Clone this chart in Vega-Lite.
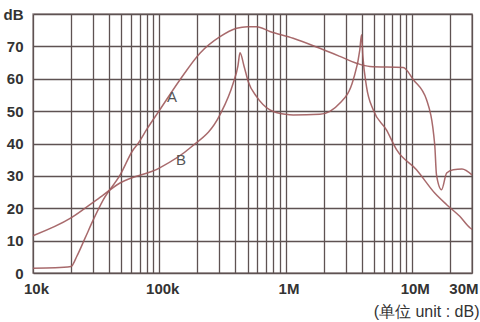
{
  "$schema": "https://vega.github.io/schema/vega-lite/v6.json",
  "width": 439,
  "height": 259,
  "autosize": {"type": "none"},
  "padding": {"left": 33, "top": 14, "right": 8, "bottom": 49},
  "background": "white",
  "config": {
    "view": {"stroke": "#9a9090", "strokeWidth": 1.5},
    "font": "Liberation Sans"
  },
  "datasets": {
    "curves": [
      {"curve": "A", "freq": 10000, "dB": 1.5},
      {"curve": "A", "freq": 15000, "dB": 1.6},
      {"curve": "A", "freq": 20000, "dB": 2},
      {"curve": "A", "freq": 22200, "dB": 5.1},
      {"curve": "A", "freq": 26000, "dB": 11},
      {"curve": "A", "freq": 30000, "dB": 16.4},
      {"curve": "A", "freq": 36000, "dB": 22.6},
      {"curve": "A", "freq": 49000, "dB": 30.3},
      {"curve": "A", "freq": 62000, "dB": 38},
      {"curve": "A", "freq": 68000, "dB": 40},
      {"curve": "A", "freq": 80000, "dB": 44.5},
      {"curve": "A", "freq": 101000, "dB": 50.4},
      {"curve": "A", "freq": 146000, "dB": 59.7},
      {"curve": "A", "freq": 210000, "dB": 67.9},
      {"curve": "A", "freq": 303000, "dB": 73},
      {"curve": "A", "freq": 410000, "dB": 75.6},
      {"curve": "A", "freq": 500000, "dB": 76.1},
      {"curve": "A", "freq": 590000, "dB": 76.1},
      {"curve": "A", "freq": 752000, "dB": 74.6},
      {"curve": "A", "freq": 1150000, "dB": 72.5},
      {"curve": "A", "freq": 1870000, "dB": 69.4},
      {"curve": "A", "freq": 2700000, "dB": 66.9},
      {"curve": "A", "freq": 3650000, "dB": 64.8},
      {"curve": "A", "freq": 4660000, "dB": 63.8},
      {"curve": "A", "freq": 8550000, "dB": 63.5},
      {"curve": "A", "freq": 10300000, "dB": 59.7},
      {"curve": "A", "freq": 13100000, "dB": 53.5},
      {"curve": "A", "freq": 15200000, "dB": 39.6},
      {"curve": "A", "freq": 15700000, "dB": 30.3},
      {"curve": "A", "freq": 17200000, "dB": 25.7},
      {"curve": "A", "freq": 18900000, "dB": 30.9},
      {"curve": "A", "freq": 21300000, "dB": 31.9},
      {"curve": "A", "freq": 25000000, "dB": 32.1},
      {"curve": "A", "freq": 30000000, "dB": 30.3},
      {"curve": "B", "freq": 10000, "dB": 11.5},
      {"curve": "B", "freq": 20000, "dB": 17},
      {"curve": "B", "freq": 31900, "dB": 22.6},
      {"curve": "B", "freq": 48900, "dB": 27.8},
      {"curve": "B", "freq": 100000, "dB": 32.4},
      {"curve": "B", "freq": 175000, "dB": 38.6},
      {"curve": "B", "freq": 303000, "dB": 48.9},
      {"curve": "B", "freq": 385000, "dB": 58.6},
      {"curve": "B", "freq": 420000, "dB": 64},
      {"curve": "B", "freq": 436000, "dB": 68},
      {"curve": "B", "freq": 470000, "dB": 63.8},
      {"curve": "B", "freq": 507000, "dB": 59.1},
      {"curve": "B", "freq": 590000, "dB": 54.5},
      {"curve": "B", "freq": 752000, "dB": 50.4},
      {"curve": "B", "freq": 1000000, "dB": 49},
      {"curve": "B", "freq": 1150000, "dB": 48.8},
      {"curve": "B", "freq": 1870000, "dB": 49},
      {"curve": "B", "freq": 2700000, "dB": 52.5},
      {"curve": "B", "freq": 3440000, "dB": 59.7},
      {"curve": "B", "freq": 3880000, "dB": 69},
      {"curve": "B", "freq": 4000000, "dB": 73.6},
      {"curve": "B", "freq": 4100000, "dB": 66.9},
      {"curve": "B", "freq": 4380000, "dB": 57.6},
      {"curve": "B", "freq": 4950000, "dB": 50.4},
      {"curve": "B", "freq": 6300000, "dB": 44.2},
      {"curve": "B", "freq": 7600000, "dB": 38},
      {"curve": "B", "freq": 10900000, "dB": 31.9},
      {"curve": "B", "freq": 15200000, "dB": 24.7},
      {"curve": "B", "freq": 18900000, "dB": 21.1},
      {"curve": "B", "freq": 24000000, "dB": 17.5},
      {"curve": "B", "freq": 29000000, "dB": 13.9},
      {"curve": "B", "freq": 30000000, "dB": 13.5}
    ],
    "labels": [
      {"name": "A", "freq": 126000, "dB": 54.4},
      {"name": "B", "freq": 148600, "dB": 35}
    ]
  },
  "encoding": {
    "x": {
      "field": "freq",
      "type": "quantitative",
      "scale": {"type": "log", "domain": [10000, 30000000], "nice": false},
      "axis": {
        "values": [10000, 20000, 30000, 40000, 50000, 60000, 70000, 80000, 90000,
                   100000, 200000, 300000, 400000, 500000, 600000, 700000, 800000, 900000,
                   1000000, 2000000, 3000000, 4000000, 5000000, 6000000, 7000000, 8000000, 9000000,
                   10000000, 20000000, 30000000],
        "labelExpr": "datum.value == 10000 ? '10k' : datum.value == 100000 ? '100k' : datum.value == 1000000 ? '1M' : datum.value == 10000000 ? '10M' : datum.value == 30000000 ? '30M' : ''",
        "labelAlign": {"condition": {"test": "datum.value >= 30000000", "value": "right"}, "value": "center"},
        "labelOffset": {"condition": {"test": "datum.value >= 30000000", "value": 6}, "value": 3},
        "labelFontSize": 15,
        "labelFontWeight": "bold",
        "labelColor": "#333333",
        "labelPadding": 8,
        "labelOverlap": false,
        "ticks": false,
        "domain": false,
        "grid": true,
        "gridColor": "#5e5252",
        "gridWidth": 1.3,
        "gridOpacity": 1,
        "title": "(单位 unit : dB)",
        "titleFontSize": 16,
        "titleFontWeight": "normal",
        "titleColor": "#333333",
        "titleAlign": "right",
        "titleAnchor": "end",
        "titleX": 446,
        "titleY": 38,
        "titleBaseline": "middle"
      }
    },
    "y": {
      "field": "dB",
      "type": "quantitative",
      "scale": {"domain": [0, 80], "nice": false},
      "axis": {
        "values": [0, 10, 20, 30, 40, 50, 60, 70, 80],
        "labelExpr": "datum.value == 80 ? 'dB' : datum.label",
        "labelFontSize": 15,
        "labelFontWeight": "bold",
        "labelColor": "#333333",
        "labelPadding": 10,
        "labelOverlap": false,
        "labelBound": false,
        "ticks": false,
        "domain": false,
        "grid": true,
        "gridColor": "#5e5252",
        "gridWidth": 1.3,
        "title": null
      }
    }
  },
  "layer": [
    {
      "data": {"name": "curves"},
      "mark": {"type": "line", "interpolate": "monotone", "strokeWidth": 1.5, "opacity": 0.9},
      "encoding": {
        "detail": {"field": "curve", "type": "nominal"},
        "color": {"value": "#9e5a5c"}
      }
    },
    {
      "data": {"name": "labels"},
      "mark": {"type": "text", "fontSize": 15, "color": "#555555", "align": "center", "baseline": "middle"},
      "encoding": {
        "text": {"field": "name", "type": "nominal"}
      }
    }
  ]
}
